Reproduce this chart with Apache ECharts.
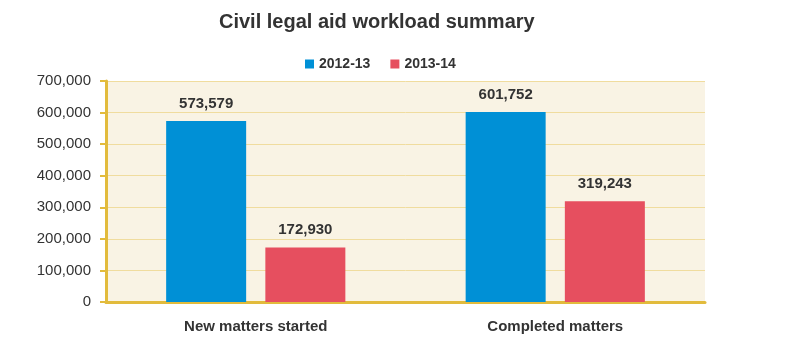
<!DOCTYPE html>
<html><head><meta charset="utf-8">
<script src="https://cdn.jsdelivr.net/npm/echarts@6/dist/echarts.min.js"></script>
<style>html,body{margin:0;padding:0;background:#fff}#c{width:802px;height:361px}</style>
</head><body><div id="c"></div>
<script>
const categories = ["New matters started", "Completed matters"];
const seriesNames = ["2012-13", "2013-14"];
const values2012 = [573579, 601752];
const values2013 = [172930, 319243];
const colors = ["#0090d6", "#e64f5f"];
const font = "'Liberation Sans', Arial, Helvetica, sans-serif";

const chart = echarts.init(document.getElementById('c'));
const labelCfg = {show: true, position: 'top', distance: 10, color: '#333', fontWeight: 'bold', fontSize: 15, fontFamily: font,
  formatter: p => p.value.toLocaleString('en-US')};
chart.setOption({
  animation: false,
  title: {text: 'Civil legal aid workload summary', top: 7, left: 214,
    textStyle: {fontSize: 20, fontWeight: 'bold', color: '#333', fontFamily: font}},
  legend: {data: seriesNames, top: 52, left: 300, itemWidth: 9, itemHeight: 9, itemGap: 20, icon: 'rect',
    textStyle: {fontSize: 14, fontWeight: 'bold', color: '#333', fontFamily: font}},
  grid: {left: 106, right: 97, top: 81, bottom: 59, show: true, backgroundColor: '#f9f3e4', borderWidth: 0},
  xAxis: {type: 'category', data: categories,
    axisLine: {lineStyle: {color: '#e2bb3c', width: 3}},
    axisTick: {show: false},
    axisLabel: {margin: 17, color: '#333', fontWeight: 'bold', fontSize: 15, fontFamily: font}},
  yAxis: {type: 'value', min: 0, max: 700000, interval: 100000,
    axisLine: {show: true, lineStyle: {color: '#e2bb3c', width: 3}},
    axisTick: {show: true, length: 6, lineStyle: {color: '#e2bb3c', width: 2}},
    splitLine: {lineStyle: {color: '#f0dc9e', width: 1}},
    axisLabel: {margin: 15, color: '#333', fontSize: 15, fontFamily: font,
      formatter: v => v.toLocaleString('en-US')}},
  series: [
    {name: seriesNames[0], type: 'bar', data: values2012, barWidth: 80, barGap: '24%', itemStyle: {color: colors[0]}, label: labelCfg},
    {name: seriesNames[1], type: 'bar', data: values2013, barWidth: 80, itemStyle: {color: colors[1]}, label: labelCfg}
  ]
});
</script></body></html>
